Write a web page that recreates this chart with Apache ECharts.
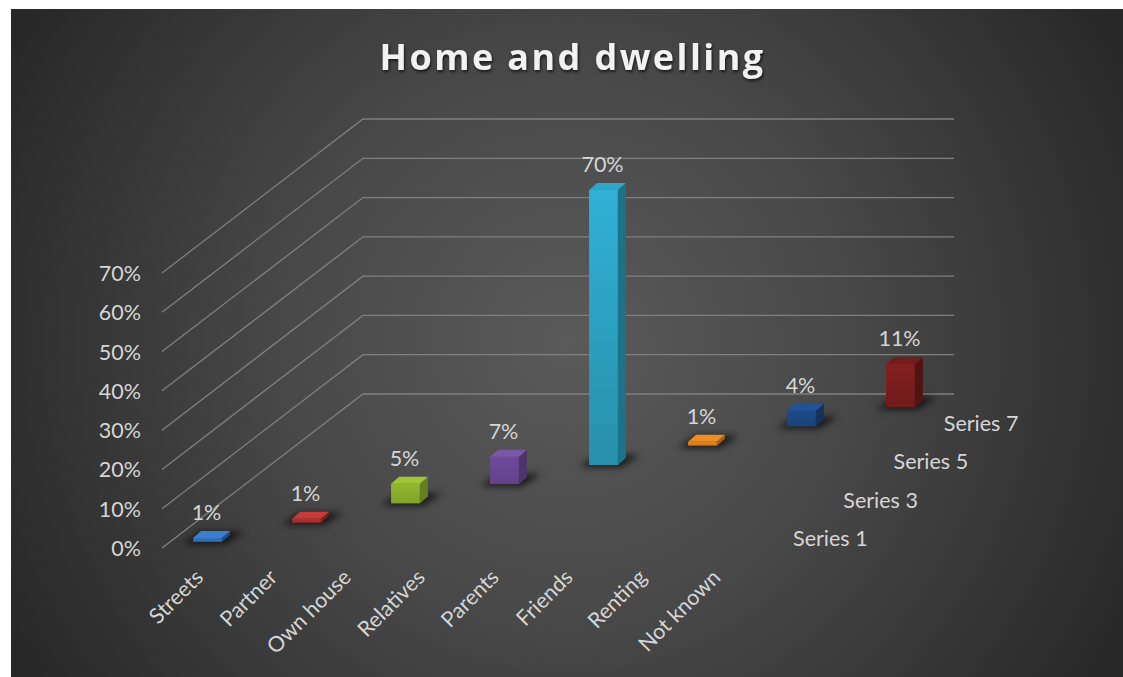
<!DOCTYPE html>
<html>
<head>
<meta charset="utf-8">
<title>Home and dwelling</title>
<style>
  html, body { margin: 0; padding: 0; background: #fff; }
  #chart { width: 1123px; height: 677px; }
  /* The only bold text is the title: spaced letters and a soft drop shadow. */
  svg text[style*="bold"] {
    letter-spacing: 2.4px;
    filter: drop-shadow(1px 2px 1.5px rgba(0,0,0,0.65));
  }
  /* Floor shadows under the bars are the only marks with this opacity. */
  svg path[fill-opacity="0.71"] { filter: blur(3.5px); }
</style>
<script src="https://cdn.jsdelivr.net/npm/echarts@6/dist/echarts.min.js"></script>
</head>
<body>
<div id="chart"></div>
<script>
const categories = ['Streets', 'Partner', 'Own house', 'Relatives', 'Parents', 'Friends', 'Renting', 'Not known'];
const shares = [1, 1, 5, 7, 70, 1, 4, 11];
const valueTicks = [0, 10, 20, 30, 40, 50, 60, 70];
const depthLabels = ['Series 1', 'Series 3', 'Series 5', 'Series 7'];
const depthRows = [0, 2, 4, 6];

const frontTop = ['#2f72c0', '#b83030', '#92b830', '#6f4a9c', '#31b0d6', '#e6851f', '#1c4a8c', '#822020'];
const frontBottom = ['#2a68b0', '#a82a2a', '#80a32a', '#634288', '#2890aa', '#d47818', '#1a4379', '#701a1a'];
const sideFace = ['#1f4f88', '#7d1f1f', '#647f1f', '#4d346d', '#1c7288', '#a85e14', '#13325c', '#531313'];
const topFace = ['#3a80d0', '#c83a3a', '#a0c638', '#7c56a8', '#2fa4c6', '#ec8f28', '#225299', '#741c1c'];

const LABEL_FONT = '21.5px Lato';
const LABEL_COLOR = '#d6d6d6';
const GRID_COLOR = '#808080';

// Oblique projection of the depth axis: screen offset for one row of depth.
const DEPTH_DX = 25.125;
const DEPTH_DY = -19.25;
const ROWS = categories.length;
// Front face width as a share of one category band, and the side-face offset.
const BAR_RATIO = 0.39;
const BAR_SIDE_DX = 8;
const BAR_SIDE_DY = -7;

function drawWalls(params, api) {
  const v = api.value(0);
  const bw = api.size([1, 0])[0];
  const p = api.coord([0, v]);
  const left = p[0] - bw / 2;
  const backX = left + DEPTH_DX * ROWS;
  const backY = p[1] + DEPTH_DY * ROWS;
  const rightX = backX + bw * categories.length;
  return {
    type: 'polyline',
    shape: { points: [[left, p[1]], [backX, backY], [rightX, backY]] },
    style: { stroke: GRID_COLOR, lineWidth: 1.3, fill: null },
    silent: true
  };
}

function drawBar(params, api) {
  const i = api.value(0);
  const v = api.value(1);
  const bw = api.size([1, 0])[0];
  const base = api.coord([i, 0]);
  const head = api.coord([i, v]);
  const shiftX = DEPTH_DX * (i + 0.5);
  const shiftY = DEPTH_DY * (i + 0.5);
  const w = bw * BAR_RATIO;
  const x0 = base[0] + shiftX - w / 2 - BAR_SIDE_DX / 2;
  const x1 = x0 + w;
  const yB = base[1] + shiftY - BAR_SIDE_DY / 2;
  const yT = head[1] + shiftY - BAR_SIDE_DY / 2;
  const sx = BAR_SIDE_DX;
  const sy = BAR_SIDE_DY;
  return {
    type: 'group',
    children: [
      {
        type: 'polygon',
        shape: { points: [[x0 - 10, yB + 2], [x1 + 3, yB + 2], [x1 + sx + 14, yB + sy - 3], [x0 + sx, yB + sy - 3]] },
        style: { fill: '#000000', opacity: 0.71 },
        silent: true
      },
      {
        type: 'polygon',
        shape: { points: [[x0, yT], [x1, yT], [x1, yB], [x0, yB]] },
        style: {
          fill: new echarts.graphic.LinearGradient(0, 0, 0, 1, [
            { offset: 0, color: frontTop[i] },
            { offset: 1, color: frontBottom[i] }
          ])
        }
      },
      {
        type: 'polygon',
        shape: { points: [[x1, yT], [x1 + sx, yT + sy], [x1 + sx, yB + sy], [x1, yB]] },
        style: { fill: sideFace[i] }
      },
      {
        type: 'polygon',
        shape: { points: [[x0, yT], [x0 + sx, yT + sy], [x1 + sx, yT + sy], [x1, yT]] },
        style: { fill: topFace[i] }
      },
      {
        type: 'text',
        style: {
          text: v + '%',
          x: (x0 + x1) / 2 - 1,
          y: yT - 26,
          fill: LABEL_COLOR,
          font: LABEL_FONT,
          align: 'center',
          verticalAlign: 'middle'
        }
      }
    ]
  };
}

function drawDepthLabel(params, api) {
  const row = api.value(0);
  const bw = api.size([1, 0])[0];
  const corner = api.coord([categories.length - 1, 0]);
  return {
    type: 'text',
    style: {
      text: depthLabels[params.dataIndex],
      x: corner[0] + bw / 2 + DEPTH_DX * (row + 0.5) + 27.5,
      y: corner[1] + DEPTH_DY * (row + 0.5),
      fill: LABEL_COLOR,
      font: LABEL_FONT,
      align: 'left',
      verticalAlign: 'middle'
    }
  };
}

const chart = echarts.init(document.getElementById('chart'), null, { renderer: 'svg' });
chart.setOption({
  animation: false,
  backgroundColor: '#ffffff',
  graphic: [{
    type: 'rect',
    z: -100,
    silent: true,
    shape: { x: 11, y: 9, width: 1112, height: 668 },
    style: {
      fill: new echarts.graphic.RadialGradient(567, 343, 630, [
        { offset: 0, color: '#5a5a5a' },
        { offset: 0.45, color: '#484848' },
        { offset: 1, color: '#282828' }
      ], true)
    }
  }],
  title: {
    text: 'Home and dwelling',
    left: 567.5,
    top: 33,
    textAlign: 'center',
    textStyle: { color: '#f2f2f2', fontFamily: 'Open Sans', fontWeight: 'bold', fontSize: 36 }
  },
  grid: { left: 162, right: 370, top: 273, bottom: 129 },
  xAxis: {
    type: 'category',
    data: categories,
    axisLine: { show: false },
    axisTick: { show: false },
    splitLine: { show: false },
    axisLabel: {
      interval: 0,
      rotate: 45,
      margin: 25,
      color: LABEL_COLOR,
      fontFamily: 'Lato',
      fontSize: 21.5
    }
  },
  yAxis: {
    type: 'value',
    min: 0,
    max: 70,
    interval: 10,
    axisLine: { show: false },
    axisTick: { show: false },
    splitLine: { show: false },
    axisLabel: {
      margin: 21,
      formatter: '{value}%',
      color: LABEL_COLOR,
      fontFamily: 'Lato',
      fontSize: 21.5
    }
  },
  series: [
    {
      type: 'custom',
      name: 'Walls',
      renderItem: drawWalls,
      data: valueTicks.map(function (t) { return [t]; }),
      encode: { y: 0 },
      z: 1,
      silent: true
    },
    {
      type: 'custom',
      name: 'Share',
      renderItem: drawBar,
      data: shares.map(function (s, i) { return [i, s]; }),
      encode: { x: 0, y: 1 },
      z: 2,
      silent: true
    },
    {
      type: 'custom',
      name: 'Depth labels',
      renderItem: drawDepthLabel,
      data: depthRows.map(function (r) { return [r]; }),
      z: 3,
      silent: true
    }
  ]
});
</script>
</body>
</html>
